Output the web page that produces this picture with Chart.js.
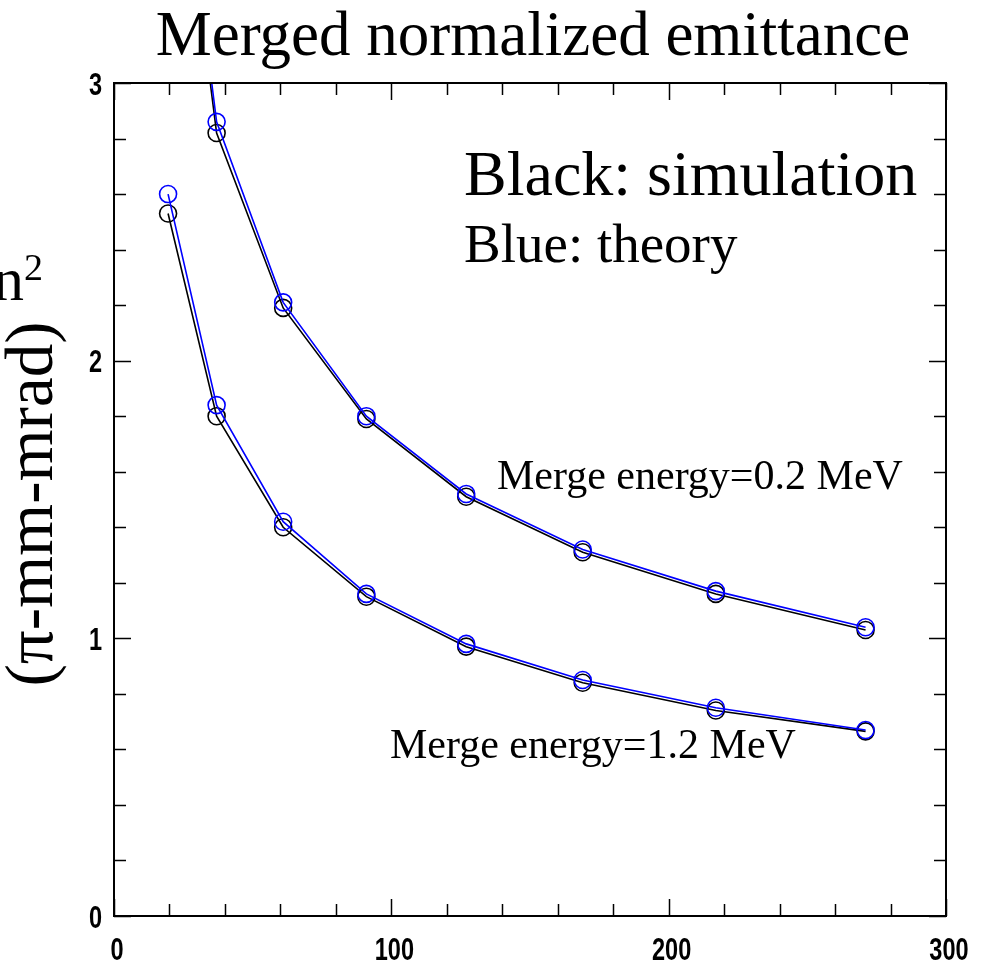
<!DOCTYPE html>
<html>
<head>
<meta charset="utf-8">
<script src="https://cdn.jsdelivr.net/npm/chart.js@4.4.1/dist/chart.umd.min.js"></script>
<style>
  html, body { margin: 0; padding: 0; background: #fff; }
</style>
</head>
<body>
<canvas id="emitChart" width="994" height="965"></canvas>
<script>
// number of bunches merged (x) and normalized emittance (y)
const xVals = [19.5, 37, 61, 91, 127, 169, 217, 271];

// merge energy 0.2 MeV
const sim02 = [4.2, 2.82, 2.19, 1.79, 1.51, 1.31, 1.16, 1.03];
const theory02 = [4.25, 2.86, 2.21, 1.80, 1.52, 1.32, 1.17, 1.04];

// merge energy 1.2 MeV
const sim12 = [2.53, 1.80, 1.40, 1.15, 0.97, 0.84, 0.74, 0.665];
const theory12 = [2.60, 1.84, 1.42, 1.16, 0.98, 0.85, 0.75, 0.67];

const xTicks = [0, 100, 200, 300];
const yTicks = [0, 1, 2, 3];
const xMinorStep = 20;
const yMinorStep = 0.2;

const serif = "'Liberation Serif', 'Times New Roman', serif";
const tickFont = "bold 31px 'Liberation Sans', Arial, sans-serif";

function pts(ys) {
  return xVals.map((x, i) => ({ x: x, y: ys[i] }));
}

function series(label, ys, color) {
  return {
    label: label,
    data: pts(ys),
    borderColor: color,
    borderWidth: 1.6,
    pointStyle: 'circle',
    pointRadius: 8.5,
    pointBorderWidth: 1.6,
    pointBorderColor: color,
    pointBackgroundColor: 'rgba(0,0,0,0)',
    tension: 0,
    fill: false
  };
}

// narrow bold digits for the axis numbers
function tickText(ctx, text, x, y, align) {
  ctx.save();
  ctx.font = tickFont;
  ctx.textBaseline = 'middle';
  ctx.textAlign = align;
  ctx.translate(x, y);
  ctx.scale(0.76, 1);
  ctx.fillText(text, 0, 0);
  ctx.restore();
}

// box around the plot with inward ticks on all four sides
const frameTicks = {
  id: 'frameTicks',
  afterDatasetsDraw(chart) {
    const { ctx, chartArea: a, scales: { x, y } } = chart;
    ctx.save();
    ctx.strokeStyle = '#000';
    ctx.fillStyle = '#000';
    ctx.lineWidth = 2;
    ctx.strokeRect(a.left, a.top, a.right - a.left, a.bottom - a.top);
    ctx.lineWidth = 1.5;
    ctx.beginPath();
    for (let v = x.min; v <= x.max + 1e-6; v += xMinorStep) {
      const px = Math.round(x.getPixelForValue(v)) + 0.5;
      const len = xTicks.includes(Math.round(v)) ? 17 : 12;
      ctx.moveTo(px, a.bottom); ctx.lineTo(px, a.bottom - len);
      ctx.moveTo(px, a.top); ctx.lineTo(px, a.top + len);
    }
    for (let v = y.min; v <= y.max + 1e-6; v += yMinorStep) {
      const py = Math.round(y.getPixelForValue(v)) + 0.5;
      const major = Math.abs(v - Math.round(v)) < 1e-6;
      const len = major ? 17 : 12;
      ctx.moveTo(a.left, py); ctx.lineTo(a.left + len, py);
      ctx.moveTo(a.right, py); ctx.lineTo(a.right - len, py);
    }
    ctx.stroke();

    xTicks.forEach(v => tickText(ctx, String(v), x.getPixelForValue(v) + 3, a.bottom + 35, 'center'));
    yTicks.forEach(v => tickText(ctx, String(v), a.left - 12, y.getPixelForValue(v) + 3, 'right'));
    ctx.restore();
  }
};

// title, annotations and the axis caption
const captions = {
  id: 'captions',
  afterDraw(chart) {
    const ctx = chart.ctx;
    ctx.save();
    ctx.fillStyle = '#000';
    ctx.textBaseline = 'alphabetic';

    ctx.font = '63px ' + serif;
    ctx.textAlign = 'center';
    ctx.fillText('Merged normalized emittance', 533, 55);

    ctx.textAlign = 'left';
    ctx.font = '64px ' + serif;
    ctx.fillText('Black: simulation', 464, 195);
    ctx.font = '55px ' + serif;
    ctx.fillText('Blue: theory', 464, 262);

    ctx.font = '42px ' + serif;
    ctx.fillText('Merge energy=0.2 MeV', 497, 489);
    ctx.fillText('Merge energy=1.2 MeV', 390, 758);

    // y caption (only partly on the page)
    ctx.font = '62px ' + serif;
    ctx.fillText('n', -7, 300);
    ctx.font = '38px ' + serif;
    ctx.fillText('2', 24, 280);

    ctx.translate(34, 504);
    ctx.rotate(-Math.PI / 2);
    ctx.textAlign = 'center';
    ctx.textBaseline = 'middle';
    ctx.font = '67px ' + serif;
    ctx.fillText('(\u03c0-mm-mrad)', 0, 0);
    ctx.restore();
  }
};

new Chart(document.getElementById('emitChart'), {
  type: 'line',
  data: {
    datasets: [
      series('theory 0.2 MeV', theory02, '#0000ff'),
      series('theory 1.2 MeV', theory12, '#0000ff'),
      series('simulation 0.2 MeV', sim02, '#000000'),
      series('simulation 1.2 MeV', sim12, '#000000')
    ]
  },
  options: {
    responsive: false,
    animation: false,
    layout: { padding: { top: 83, right: 48, bottom: 0, left: 0 } },
    plugins: {
      legend: { display: false },
      tooltip: { enabled: false }
    },
    scales: {
      x: {
        type: 'linear',
        min: 0,
        max: 300,
        afterFit(scale) { scale.height = 49; },
        ticks: { display: false, stepSize: 100 },
        grid: { display: false },
        border: { display: false }
      },
      y: {
        type: 'linear',
        min: 0,
        max: 3,
        afterFit(scale) { scale.width = 114; },
        ticks: { display: false, stepSize: 1 },
        grid: { display: false },
        border: { display: false }
      }
    }
  },
  plugins: [frameTicks, captions]
});
</script>
</body>
</html>
